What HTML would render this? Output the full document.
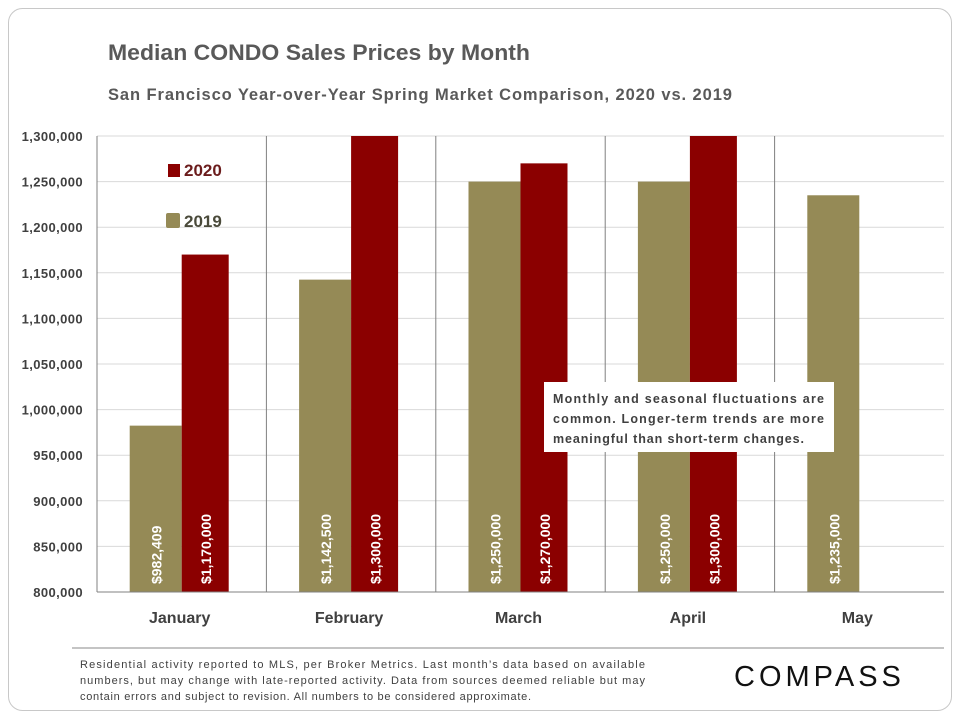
<!DOCTYPE html>
<html><head><meta charset="utf-8"><style>
body{margin:0;background:#fff;font-family:"Liberation Sans",sans-serif;}
#wrap{position:relative;width:960px;height:720px;overflow:hidden;}
</style></head><body>
<div id="wrap">
<svg id="svg" width="960" height="720" xmlns="http://www.w3.org/2000/svg">
<rect x="8.5" y="8.5" width="943" height="702" rx="14" fill="#fff" stroke="#c8c8c8"/>
<text x="108" y="60" font-size="22" font-weight="bold" fill="#595959" textLength="422" lengthAdjust="spacingAndGlyphs">Median CONDO Sales Prices by Month</text>
<text x="108" y="100" font-size="16.5" font-weight="bold" fill="#595959" textLength="624" lengthAdjust="spacing">San Francisco Year-over-Year  Spring Market Comparison,  2020 vs. 2019</text>
<g id="grid"></g>
<g id="bars"></g>
<g id="axes"></g>
<g>
<rect x="168" y="164" width="12" height="13" fill="#8b0000"/>
<text x="184" y="176" font-size="17" font-weight="bold" fill="#6b1c1c">2020</text>
<rect x="166" y="213" width="14" height="15" rx="2" fill="#958a56"/>
<text x="184" y="227" font-size="17" font-weight="bold" fill="#4a4a3a">2019</text>
</g>
<g>
<rect x="544" y="382" width="290" height="70" fill="#fff"/>
<text font-size="12.5" font-weight="bold" fill="#404040">
<tspan x="553" y="403" textLength="271">Monthly and seasonal fluctuations are</tspan>
<tspan x="553" y="423" textLength="271">common. Longer-term trends are more</tspan>
<tspan x="553" y="443" textLength="251">meaningful than short-term changes.</tspan></text>
</g>
<line x1="72" y1="648" x2="944" y2="648" stroke="#888"/>
<text font-size="11" fill="#404040">
<tspan x="80" y="668" textLength="565">Residential activity reported to MLS, per Broker Metrics. Last month’s data based on available</tspan>
<tspan x="80" y="684" textLength="565">numbers, but may change with late-reported activity. Data from sources deemed reliable but may</tspan>
<tspan x="80" y="700" textLength="451">contain errors and subject to revision. All numbers to be considered approximate.</tspan></text>
<text x="734" y="686" font-size="29" fill="#111" letter-spacing="4">COMPASS</text>
</svg>
</div>
<script>
const categories=["January","February","March","April","May"];
const values2019=[982409,1142500,1250000,1250000,1235000];
const values2020=[1170000,1300000,1270000,1300000,null];
const yTicks=[800000,850000,900000,950000,1000000,1050000,1100000,1150000,1200000,1250000,1300000];
const NS="http://www.w3.org/2000/svg";
const L=97,R=944,T=136,B=592,ymin=800000,ymax=1300000;
const y=v=>B-(v-ymin)/(ymax-ymin)*(B-T);
const cw=(R-L)/categories.length;
const xc=i=>L+cw*(i+0.5);
function mk(tag,a,p){const e=document.createElementNS(NS,tag);for(const k in a)e.setAttribute(k,a[k]);p.appendChild(e);return e;}
const grid=document.getElementById('grid'),bars=document.getElementById('bars'),axes=document.getElementById('axes');
const fmt=v=>v.toLocaleString('en-US');
yTicks.forEach(t=>{
 const l=mk('line',{x1:L,x2:R,y1:y(t),y2:y(t),stroke:'#d9d9d9'},grid);
 
 
 const tx=mk('text',{x:83,y:y(t)+5,'text-anchor':'end','font-size':13,'font-weight':'bold',fill:'#404040','letter-spacing':'0.4'},axes);
 tx.textContent=fmt(t);
 
 
});
for(let i=1;i<categories.length;i++){
 const l=mk('line',{x1:L+cw*i,x2:L+cw*i,y1:T,y2:B,stroke:'#808080'},grid);
 
 
}
const ax=mk('line',{x1:L,x2:L,y1:T,y2:B,stroke:'#808080'},axes);


const bx=mk('line',{x1:L,x2:R,y1:B,y2:B,stroke:'#808080'},axes);


function bar(v,x0,w,col,name){
 const top=y(Math.min(v,ymax));
 const r=mk('rect',{x:x0,y:top,width:w,height:B-top,fill:col},bars);
 
 
 const cx=x0+w/2+6,cy=B-8;
 const t=mk('text',{x:cx,y:cy,transform:`rotate(-90 ${cx} ${cy})`,'font-size':14,'font-weight':'bold',fill:'#fff'},bars);
 t.textContent='$'+fmt(v);
 
 
}
categories.forEach((c,i)=>{
 const cx=xc(i);
 if(values2019[i]!=null)bar(values2019[i],cx-52,52,'#958a56','bar-2019-'+c.toLowerCase());
 if(values2020[i]!=null)bar(values2020[i],cx,47,'#8b0000','bar-2020-'+c.toLowerCase());
 const t=mk('text',{x:cx-2,y:623,'text-anchor':'middle','font-size':16,'font-weight':'bold',fill:'#404040'},axes);
 t.textContent=c;
 
 
});
</script>
</body></html>
